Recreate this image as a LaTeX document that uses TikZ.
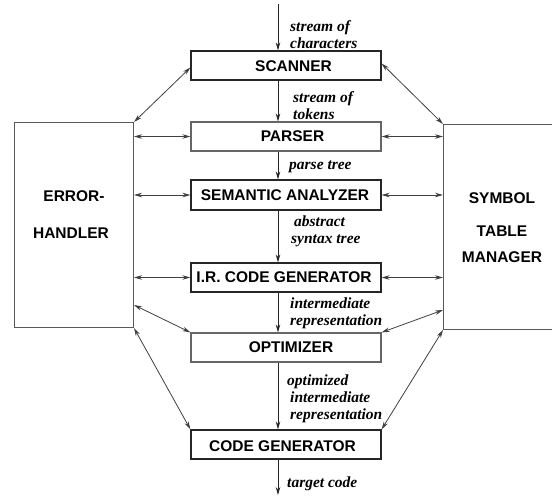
\documentclass[tikz,border=0pt]{standalone}
\usepackage{fontspec}
\setmainfont{Liberation Serif}
\setsansfont{Liberation Sans}
\usetikzlibrary{arrows.meta}
\begin{document}
\begin{tikzpicture}[x=1pt,y=-1pt,
  box/.style={draw=black!85, line width=1.2pt, minimum width=190pt, minimum height=29pt, inner sep=0pt},
  lightbox/.style={box, draw=black!60},
  side/.style={draw=black!65, line width=1pt, inner sep=0pt, anchor=north west},
  btxt/.style={font=\sffamily\bfseries\fontsize{15.5}{17}\selectfont, inner sep=0pt},
  lbl/.style={font=\rmfamily\bfseries\itshape\fontsize{15.5}{17}\selectfont, align=left, anchor=west, inner sep=0pt},
  tip/.tip={Stealth[length=8pt,width=4.5pt]},
  flow/.style={line width=0.8pt, draw=black!85, -tip},
  link/.style={line width=0.8pt, draw=black!75, tip-tip}
]
\path[use as bounding box, clip] (0,0) rectangle (552,496);
\fill[white] (0,0) rectangle (552,496);

% side boxes
\node[side, minimum width=119pt, minimum height=205pt] (err) at (14,122) {};
\node[side, minimum width=130pt, minimum height=205pt] (sym) at (443,124) {};
\node[btxt] (errA) at (74,196) {ERROR-};
\node[btxt] (errB) at (71,233) {HANDLER};
\node[btxt] (symA) at (502,198) {SYMBOL};
\node[btxt] (symB) at (502,231) {TABLE};
\node[btxt] (symC) at (502,257) {MANAGER};

% main boxes
\node[box] (scan) at (286,65.5) {};
\node[lightbox] (par) at (286,136.5) {};
\node[box, minimum height=30pt] (sem) at (286,195) {};
\node[box] (ir) at (286,277.5) {};
\node[lightbox] (opt) at (286,347.5) {};
\node[box] (cg) at (286,444.5) {};

\node[btxt] (scanT) at (293.5,66.5) {SCANNER};
\node[btxt] (parT) at (292.5,136.5) {PARSER};
\node[btxt] (semT) at (285,195) {SEMANTIC ANALYZER};
\node[btxt] (irT) at (284,277) {I.R. CODE GENERATOR};
\node[btxt] (optT) at (291,347) {OPTIMIZER};
\node[btxt] (cgT) at (282.5,446) {CODE GENERATOR};

% labels
\node[lbl] (l1) at (290,35) {stream of\\characters};
\node[lbl] (l2) at (293,106) {stream of\\tokens};
\node[lbl] (l3) at (289,167) {parse tree};
\node[lbl] (l4) at (291,231) {\hspace*{3pt}abstract\\syntax tree};
\node[lbl] (l5) at (290,313.5) {intermediate\\representation};
\node[lbl] (l6) at (287,399) {optimized\\\hspace*{3pt}intermediate\\\hspace*{3pt}representation};
\node[lbl] (l7) at (287,484) {target code};

% main flow
\coordinate (axis) at (278,0);
\coordinate (in) at (278,4);
\coordinate (out) at (278,495);
\draw[flow] (in) -- (axis |- scan.north);
\draw[flow] (axis |- scan.south) -- (axis |- par.north);
\draw[flow] (axis |- par.south) -- (axis |- sem.north);
\draw[flow] (axis |- sem.south) -- (axis |- ir.north);
\draw[flow] (axis |- ir.south) -- (axis |- opt.north);
\draw[flow] (axis |- opt.south) -- (axis |- cg.north);
\draw[flow] (axis |- cg.south) -- (out);

% error handler links
\draw[link] (err.north east) -- ([yshift=-2pt]scan.west);
\draw[link] (err.east |- par.west) -- (par.west);
\draw[link] (err.east |- sem.west) -- (sem.west);
\draw[link] (err.east |- ir.west) -- (ir.west);
\draw[link] ([yshift=23pt]err.south east) -- (opt.north west);
\draw[link] (err.south east) -- (cg.north west);

% symbol table links
\draw[link] ([yshift=2pt]scan.east) -- (sym.north west);
\draw[link] (par.east) -- (sym.west |- par.east);
\draw[link] (sem.east) -- (sym.west |- sem.east);
\draw[link] (ir.east) -- (sym.west |- ir.east);
\draw[link] ([yshift=20pt]sym.south west) -- (opt.north east);
\draw[link] (sym.south west) -- (cg.north east);
\end{tikzpicture}
\end{document}
